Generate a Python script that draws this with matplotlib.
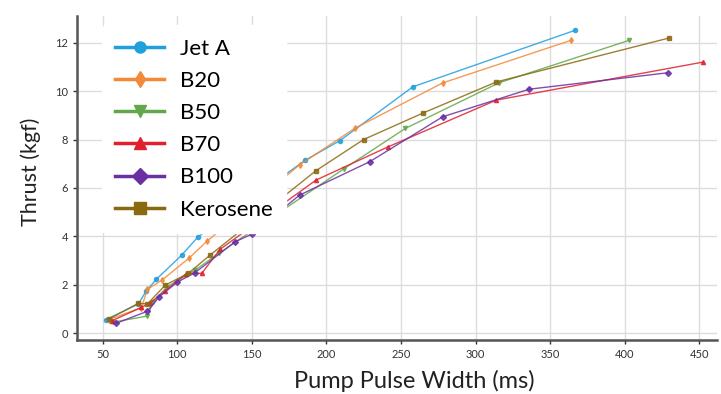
import matplotlib
matplotlib.use("Agg")
import matplotlib.pyplot as plt
from matplotlib.lines import Line2D

plt.rcParams['font.family'] = ['Lato', 'DejaVu Sans']

# ---- data (Pump pulse width in ms, thrust in kgf) ----
jet_a_x = [52, 74, 79, 86, 103, 114, 186, 209, 258, 367]
jet_a_y = [0.55, 1.2, 1.72, 2.22, 3.22, 3.98, 7.15, 7.95, 10.18, 12.52]

b20_x = [54, 76, 80, 90, 108, 120, 182, 219, 278, 364]
b20_y = [0.55, 1.05, 1.8, 2.2, 3.1, 3.8, 6.95, 8.46, 10.34, 12.1]

b50_x = [57, 80, 84, 93, 112, 128, 212, 253, 316, 403]
b50_y = [0.45, 0.7, 1.3, 1.9, 2.6, 3.3, 6.8, 8.46, 10.35, 12.1]

b70_x = [56, 76, 82, 92, 106, 116.5, 128.7, 193, 241.5, 314, 452.5]
b70_y = [0.5, 1.06, 1.25, 1.75, 2.45, 2.47, 3.46, 6.32, 7.7, 9.63, 11.2]

b100_x = [59, 80, 88, 100, 112, 138.8, 150, 182, 229, 278, 336, 429]
b100_y = [0.4, 0.9, 1.5, 2.1, 2.5, 3.77, 4.09, 5.7, 7.08, 8.94, 10.08, 10.76]

kero_x = [54, 74, 80, 92, 107.5, 122, 193, 225, 265, 314, 430]
kero_y = [0.57, 1.23, 1.2, 1.98, 2.47, 3.22, 6.71, 8.0, 9.1, 10.38, 12.2]

labels = ["Jet A", "B20", "B50", "B70", "B100", "Kerosene"]
colors = ["#1fa0dc", "#f28a3a", "#62a84a", "#e0202c", "#6a2fa3", "#8a6a10"]
markers = ["o", "d", "v", "^", "D", "s"]
xs = [jet_a_x, b20_x, b50_x, b70_x, b100_x, kero_x]
ys = [jet_a_y, b20_y, b50_y, b70_y, b100_y, kero_y]

xticks = [50, 100, 150, 200, 250, 300, 350, 400, 450]
yticks = [0, 2, 4, 6, 8, 10, 12]

fig = plt.figure(figsize=(7.21, 3.94), dpi=100)
ax = fig.add_axes([0.107, 0.137, 0.887, 0.822])

for x, y, c, m in zip(xs, ys, colors, markers):
    ax.plot(x, y, color=c, marker=m, markersize=3, linewidth=1.0, alpha=0.85)

ax.set_xlim(32.9, 461.7)
ax.set_ylim(-0.29, 13.1)
ax.set_xticks(xticks)
ax.set_yticks(yticks)
ax.grid(True, color="#dcdcdc", linewidth=1.0)
ax.set_axisbelow(True)
for s in ["top", "right"]:
    ax.spines[s].set_visible(False)
for s in ["left", "bottom"]:
    ax.spines[s].set_color("#555555")
    ax.spines[s].set_linewidth(1.8)
ax.tick_params(axis="both", labelsize=8, colors="#333333", length=3, width=1)

ax.set_xlabel("Pump Pulse Width (ms)", fontsize=17, color="#222222", labelpad=7)
ax.set_ylabel("Thrust (kgf)", fontsize=15.5, color="#222222", labelpad=10)
ax.xaxis.label.set_x(0.527)
ax.yaxis.label.set_y(0.52)

handles = [Line2D([0], [0], color=c, marker=m, markersize=8, linewidth=2.5)
           for c, m in zip(colors, markers)]
leg = ax.legend(handles, labels, loc="upper left", bbox_to_anchor=(0.039, 0.972),
                borderaxespad=0, fontsize=16, frameon=True, framealpha=1,
                facecolor="white", edgecolor="white", handlelength=2.2,
                labelspacing=0.55, handletextpad=0.7, borderpad=0.6)

fig.savefig("out.png", dpi=100)
